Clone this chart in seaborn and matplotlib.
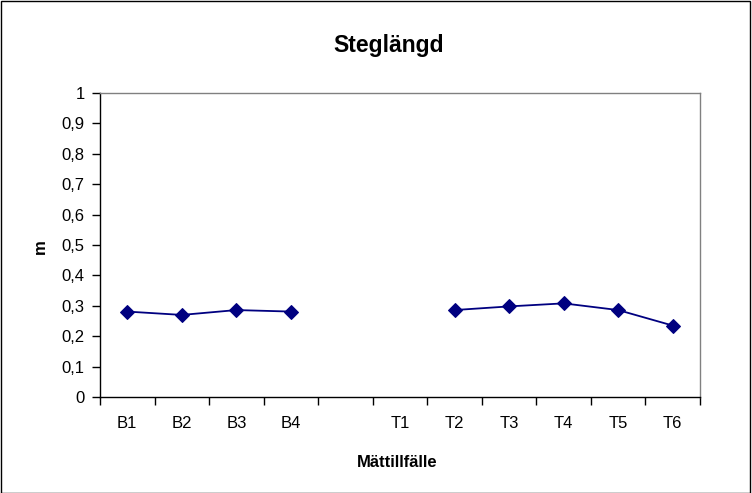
import numpy as np
import pandas as pd
import seaborn as sns
import matplotlib.pyplot as plt
from matplotlib.patches import Rectangle
from matplotlib.ticker import FixedLocator

# categories along the x axis (blank slot between B4 and T1)
categories = ["B1", "B2", "B3", "B4", "", "T1", "T2", "T3", "T4", "T5", "T6"]
b_values = [0.281, 0.270, 0.286, 0.281]
t_values = [np.nan, 0.286, 0.298, 0.308, 0.286, 0.235]
y_ticks = [0, 0.1, 0.2, 0.3, 0.4, 0.5, 0.6, 0.7, 0.8, 0.9, 1]
y_labels = ["0", "0,1", "0,2", "0,3", "0,4", "0,5", "0,6", "0,7", "0,8", "0,9", "1"]

rows = []
for i, v in enumerate(b_values):
    rows.append([i, v, "B"])
for i, v in enumerate(t_values):
    rows.append([5 + i, v, "T"])
df = pd.DataFrame(rows, columns=["pos", "m", "group"]).dropna()

sns.set_theme(style="white")
plt.rcParams["font.family"] = ["Liberation Sans", "DejaVu Sans"]
plt.rcParams["text.color"] = "black"
plt.rcParams["xtick.color"] = "black"
plt.rcParams["ytick.color"] = "black"
plt.rcParams["axes.labelcolor"] = "black"

fig = plt.figure(figsize=(7.52, 4.93), dpi=100)
ax = fig.add_axes([100 / 752, 1 - 397 / 493, 600 / 752, 304 / 493])

sns.lineplot(
    data=df, x="pos", y="m", hue="group",
    palette={"B": "#000080", "T": "#000080"},
    marker="D", markersize=7, markeredgecolor="#000080",
    linewidth=1.3, legend=False, ax=ax,
)

ax.set_xlim(-0.5, len(categories) - 0.5)
ax.set_ylim(0, 1)
ax.set_xticks(range(len(categories)))
ax.set_xticklabels(categories, fontsize=12)
ax.xaxis.set_minor_locator(FixedLocator(np.arange(-0.5, len(categories), 1)))
ax.tick_params(axis="x", which="major", length=0, pad=14)
ax.tick_params(axis="x", which="minor", length=6, width=1, color="black", direction="out", bottom=True)
ax.set_yticks(y_ticks)
ax.set_yticklabels(y_labels, fontsize=12)
ax.tick_params(axis="y", length=6, width=1, color="black", direction="out", left=True, pad=5)

for side in ["left", "bottom"]:
    ax.spines[side].set_color("black")
    ax.spines[side].set_linewidth(1)
for side in ["top", "right"]:
    ax.spines[side].set_color("#808080")
    ax.spines[side].set_linewidth(1)

ax.set_xlabel("Mättillfälle", fontsize=12, fontweight="bold")
ax.xaxis.label.set_va("baseline")
ax.xaxis.set_label_coords(0.496, (397 - 467) / 304)
ax.set_ylabel("m", fontsize=12, fontweight="bold")
ax.yaxis.label.set_va("center")
ax.yaxis.set_label_coords((40 - 100) / 600, (397 - 247) / 304)
fig.text(389 / 752, 1 - 52 / 493, "Steglängd", ha="center", va="baseline",
         fontsize=16.5, fontweight="bold")

fig.patches.append(Rectangle((0.001, 0.001), 0.997, 0.997, transform=fig.transFigure,
                             fill=False, edgecolor="black", linewidth=1))

plt.savefig("out.png", dpi=100)
